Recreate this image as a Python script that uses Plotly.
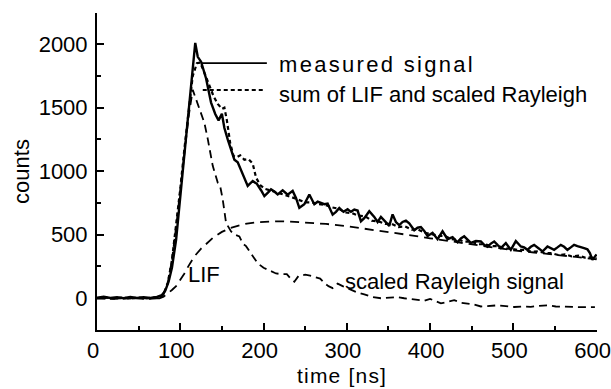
import plotly.graph_objects as go

# ---------------- data ----------------
t_meas = [0, 8, 16, 24, 32, 40, 48, 56, 64, 72, 78, 82, 86, 90, 95, 101, 107, 113, 118,
          121, 125, 131, 137, 142, 146, 150, 153, 157, 161, 165, 169, 175, 181, 187, 192,
          197, 201, 205, 209, 213, 217, 223, 229, 235, 239, 243, 249, 255, 261, 265, 269,
          273, 277, 283, 287, 291, 296, 301, 305, 309, 313, 317, 321, 327, 333, 337, 341,
          345, 351, 355, 359, 363, 367, 371, 375, 381, 385, 389, 393, 397, 403, 409, 415,
          421, 427, 433, 437, 441, 445, 449, 455, 461, 465, 469, 473, 477, 481, 485, 491,
          497, 503, 509, 513, 517, 521, 525, 531, 535, 541, 545, 549, 553, 557, 561, 565,
          569, 573, 577, 581, 585, 589, 592, 595, 598, 600]
v_meas = [5, 12, 2, 8, 0, 10, 3, 8, 2, 10, 25, 60, 130, 240, 460, 860, 1250, 1650, 2010,
          1900, 1862, 1730, 1540, 1450, 1400, 1452, 1340, 1250, 1160, 1090, 1070, 980, 884, 923, 900,
          850, 804, 830, 857, 840, 817, 850, 815, 845, 790, 712, 740, 817, 740, 760, 750,
          740, 745, 658, 680, 711, 680, 700, 680, 698, 690, 606, 630, 685, 640, 600, 640,
          610, 570, 660, 600, 575, 600, 610, 590, 535, 555, 560, 530, 490, 515, 465, 527,
          465, 480, 440, 470, 487, 460, 435, 450, 447, 420, 405, 430, 447, 420, 395, 434,
          381, 450, 407, 400, 381, 405, 420, 390, 368, 407, 395, 381, 400, 420, 405, 381,
          400, 420, 410, 405, 394, 385, 355, 302, 330, 345]

t_sum = [0, 10, 20, 30, 40, 50, 60, 70, 76, 80, 85, 90, 95, 100, 105, 110, 115, 120, 124,
         128, 132, 136, 140, 145, 150, 153, 156, 160, 164, 168, 172, 177, 182, 187, 191,
         196, 202, 210, 218, 226, 234, 242, 250, 258, 266, 274, 282, 290, 298, 306, 314,
         322, 330, 338, 346, 354, 362, 370, 378, 386, 394, 402, 410, 418, 426, 434, 442,
         450, 458, 466, 474, 482, 490, 498, 506, 514, 522, 530, 538, 546, 554, 562, 570,
         578, 586, 594, 600]
v_sum = [0, 5, -2, 5, 0, 5, 0, 5, 10, 35, 120, 300, 560, 860, 1180, 1480, 1750, 1850, 1855,
         1790, 1720, 1660, 1590, 1530, 1490, 1500, 1400, 1220, 1120, 1110, 1125, 1090, 1095, 1060, 950,
         890, 860, 845, 830, 810, 795, 775, 755, 755, 740, 735, 715, 705, 675, 670, 650,
         645, 610, 605, 585, 585, 560, 565, 540, 540, 515, 505, 490, 490, 465, 460, 445,
         445, 425, 425, 410, 410, 390, 390, 380, 380, 365, 370, 355, 355, 340, 345, 330,
         335, 320, 322, 312]

t_lif = [0, 20, 40, 60, 75, 80, 85, 90, 95, 100, 105, 110, 117, 125, 133, 140, 150, 160,
         170, 180, 190, 200, 215, 230, 250, 275, 300, 325, 350, 375, 400, 425, 450, 475,
         500, 525, 550, 575, 600]
v_lif = [0, 0, 0, 0, 0, 12, 35, 65, 95, 140, 195, 255, 330, 390, 440, 480, 522, 552,
         572, 588, 597, 602, 605, 604, 598, 585, 567, 545, 520, 497, 472, 447, 422, 398,
         377, 360, 344, 325, 305]

t_ray = [0, 20, 40, 60, 75, 80, 85, 90, 95, 100, 105, 110, 115, 119, 124, 129, 133, 139,
         145, 148, 151, 155, 161, 166, 171, 175, 179, 185, 193, 200, 207, 215, 222, 228,
         233, 237, 242, 250, 256, 262, 268, 273, 278, 283, 289, 295, 301, 311, 321, 331,
         341, 351, 361, 369, 377, 385, 393, 400, 407, 413, 420, 429, 437, 445, 453, 461,
         471, 481, 491, 501, 511, 521, 531, 541, 551, 561, 571, 581, 590, 598]
v_ray = [0, -5, 0, -5, 0, 30, 120, 300, 560, 850, 1150, 1430, 1640, 1570, 1480, 1380, 1254, 1042,
         910, 880, 778, 593, 526, 500, 487, 430, 410, 355, 275, 240, 218, 195, 190, 190,
         150, 130, 175, 185, 178, 165, 155, 120, 95, 80, 115, 95, 77, 50, 30, 10,
         0, 5, 8, 0, -5, -15, -20, -5, -25, -40, -30, -15, -35, -42, -50, -65,
         -60, -56, -62, -69, -65, -68, -60, -56, -65, -69, -68, -70, -68, -70]

x_ticks = [0, 100, 200, 300, 400, 500, 600]
y_ticks = [0, 500, 1000, 1500, 2000]

label_measured = "measured signal"
label_sum = "sum of LIF and scaled Rayleigh"
label_lif = "LIF"
label_ray = "scaled Rayleigh signal"
x_title = "time [ns]"
y_title = "counts"

FONT = "Liberation Sans, Arial, sans-serif"

fig = go.Figure()
fig.add_trace(go.Scatter(x=t_lif, y=v_lif, mode="lines",
                         line=dict(color="black", width=1.8, dash="9px,6px")))
fig.add_trace(go.Scatter(x=t_ray, y=v_ray, mode="lines",
                         line=dict(color="black", width=1.8, dash="8px,5px")))
fig.add_trace(go.Scatter(x=t_sum, y=v_sum, mode="lines",
                         line=dict(color="black", width=2.2, dash="4px,3px")))
fig.add_trace(go.Scatter(x=t_meas, y=v_meas, mode="lines",
                         line=dict(color="black", width=2.4)))

# legend keys (callout lines next to the labels)
fig.add_shape(type="line", x0=125, x1=204, y0=1850, y1=1850, xref="x", yref="y",
              line=dict(color="black", width=1.8))
fig.add_shape(type="line", x0=127, x1=202, y0=1638, y1=1638, xref="x", yref="y",
              line=dict(color="black", width=2, dash="4px,3px"))

ann_font = dict(family=FONT, size=22, color="black")
fig.add_annotation(x=216, y=1842,
                   text='<span style="letter-spacing:2.3px">' + label_measured + '</span>',
                   showarrow=False, xanchor="left", yanchor="middle", font=ann_font)
fig.add_annotation(x=216, y=1602, text=label_sum, showarrow=False,
                   xanchor="left", yanchor="middle", font=ann_font)
fig.add_annotation(x=129, y=185, text=label_lif, showarrow=False,
                   xanchor="center", yanchor="middle", font=ann_font)
fig.add_annotation(x=296, y=128, text=label_ray, showarrow=False,
                   xanchor="left", yanchor="middle", font=ann_font)
# x-axis title
fig.add_annotation(x=294, xref="x", y=-0.143, yref="paper",
                   text='<span style="letter-spacing:1.2px">' + x_title + '</span>',
                   showarrow=False, xanchor="center", yanchor="middle",
                   font=dict(family=FONT, size=21, color="black"))

axis_common = dict(showline=True, linecolor="black", linewidth=2, showgrid=False,
                   zeroline=False, ticks="inside", ticklen=7, tickwidth=2,
                   tickcolor="black", tickfont=dict(family=FONT, size=22, color="black"),
                   mirror=False, ticklabeloverflow="allow", automargin=False)

fig.update_xaxes(range=[0, 600.5], tickvals=x_ticks, ticktext=[str(v) for v in x_ticks],
                 minor=dict(ticks="inside", ticklen=4, tickwidth=1.5, dtick=50, tick0=0,
                            tickcolor="black"),
                 ticklabelstandoff=0, ticklabelshift=-4, **axis_common)
fig.update_yaxes(range=[-250, 2245], tickvals=y_ticks, ticktext=[str(v) for v in y_ticks],
                 minor=dict(ticks="inside", ticklen=4, tickwidth=1.5, dtick=250, tick0=0,
                            tickcolor="black"),
                 title=dict(text=y_title, font=dict(family=FONT, size=22, color="black"),
                            standoff=3),
                 ticklabelstandoff=3, **axis_common)

fig.update_layout(width=611, height=389, margin=dict(l=97, r=14, t=13, b=59),
                  paper_bgcolor="white", plot_bgcolor="white", showlegend=False,
                  font=dict(family=FONT, size=22, color="black"))

fig.write_html("out.html")
